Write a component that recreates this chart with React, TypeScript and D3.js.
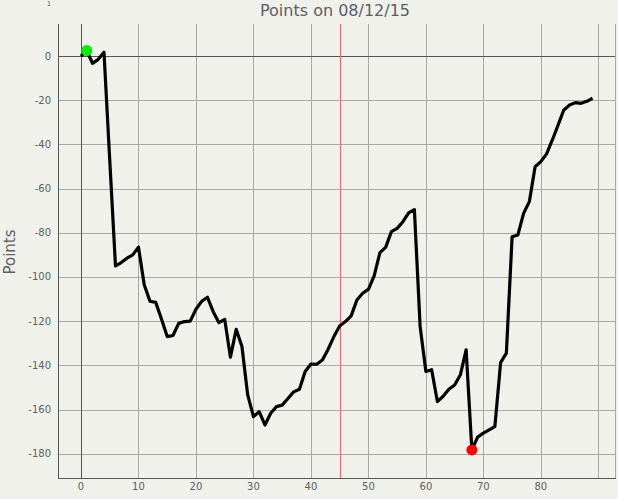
import { useEffect, useRef } from 'react';
import * as d3 from 'd3';

// points per sample index (0..89)
const points = [
  0, 2.5, -3.3, -1.5, 1.7, -47, -95, -93.5, -91.5, -90,
  -86.5, -103.5, -111, -111.5, -119, -127, -126.5, -121, -120.2, -120,
  -114.6, -111, -109.2, -115.7, -120.7, -119.2, -136.3, -123.7, -131.5, -153.4,
  -163.2, -161, -167, -161.7, -158.7, -158, -155, -152, -150.8, -142.8,
  -139.4, -139.5, -137.6, -132.7, -127, -122.2, -120.2, -117.6, -110.4, -107.4,
  -105.6, -99.5, -89, -86.6, -79.5, -78, -75, -71, -69.5, -122.5,
  -142.8, -142, -156.4, -154, -150.8, -148.9, -144.3, -133, -178.3, -172.5,
  -170.7, -169.2, -167.7, -138.8, -134.5, -81.8, -81, -71.2, -65.9, -50.1,
  -47.8, -44.3, -38, -31.2, -24.4, -22.2, -21.1, -21.4, -20.5, -19.1,
];
const xTickLabels = [0, 10, 20, 30, 40, 50, 60, 70, 80];
const xGridValues = [10, 20, 30, 40, 50, 60, 70, 80, 90];
const yTickLabels = [0, -20, -40, -60, -80, -100, -120, -140, -160, -180];
const markerX = 45;
const maxIndex = 1;
const minIndex = 68;

const colors = {
  bg: '#f1f1ec',
  grid: '#a8a8a4',
  axis: '#555555',
  text: '#5a5e66',
  marker: '#f06474',
};

export default function App() {
  const ref = useRef<SVGSVGElement>(null);

  useEffect(() => {
    const svg = d3.select(ref.current);
    svg.selectAll('*').remove();

    const left = 58;
    const right = 615;
    const top = 24;
    const bottom = 478;
    const font = 'DejaVu Sans, Verdana, sans-serif';

    const x = d3.scaleLinear().domain([-4, 92.9]).range([left, right]);
    const y = d3.scaleLinear().domain([-191, 14.5]).range([bottom, top]);

    svg.append('rect').attr('width', 618).attr('height', 499).attr('fill', colors.bg);

    // grid
    const grid = svg.append('g').attr('shape-rendering', 'crispEdges');
    grid
      .selectAll('line.vg')
      .data(xGridValues)
      .enter()
      .append('line')
      .attr('x1', d => Math.round(x(d)) + 0.5)
      .attr('x2', d => Math.round(x(d)) + 0.5)
      .attr('y1', top)
      .attr('y2', bottom)
      .attr('stroke', colors.grid);
    grid
      .selectAll('line.hg')
      .data(yTickLabels.filter(d => d !== 0))
      .enter()
      .append('line')
      .attr('x1', left)
      .attr('x2', right)
      .attr('y1', d => Math.round(y(d)) + 0.5)
      .attr('y2', d => Math.round(y(d)) + 0.5)
      .attr('stroke', colors.grid);
    grid
      .append('line')
      .attr('x1', right + 0.5)
      .attr('x2', right + 0.5)
      .attr('y1', top)
      .attr('y2', bottom)
      .attr('stroke', colors.grid);

    // zero lines and frame
    grid
      .append('line')
      .attr('x1', Math.round(x(0)) + 0.5)
      .attr('x2', Math.round(x(0)) + 0.5)
      .attr('y1', top)
      .attr('y2', bottom)
      .attr('stroke', colors.axis);
    grid
      .append('line')
      .attr('x1', left)
      .attr('x2', right)
      .attr('y1', Math.round(y(0)) + 0.5)
      .attr('y2', Math.round(y(0)) + 0.5)
      .attr('stroke', colors.axis);
    grid
      .append('line')
      .attr('x1', left + 0.5)
      .attr('x2', left + 0.5)
      .attr('y1', top)
      .attr('y2', bottom + 1)
      .attr('stroke', colors.axis);
    grid
      .append('line')
      .attr('x1', left)
      .attr('x2', right + 1)
      .attr('y1', bottom + 0.5)
      .attr('y2', bottom + 0.5)
      .attr('stroke', colors.axis);

    grid
      .append('line')
      .attr('x1', Math.round(x(markerX)) + 0.5)
      .attr('x2', Math.round(x(markerX)) + 0.5)
      .attr('y1', top)
      .attr('y2', bottom)
      .attr('stroke', colors.marker);

    // tick labels
    svg
      .append('g')
      .selectAll('text')
      .data(xTickLabels)
      .enter()
      .append('text')
      .attr('x', d => x(d))
      .attr('y', 490)
      .attr('text-anchor', 'middle')
      .style('font-family', font)
      .style('font-size', '10px')
      .attr('fill', colors.text)
      .text(d => d);
    svg
      .append('g')
      .selectAll('text')
      .data(yTickLabels)
      .enter()
      .append('text')
      .attr('x', 51)
      .attr('y', d => y(d))
      .attr('dy', '0.35em')
      .attr('text-anchor', 'end')
      .style('font-family', font)
      .style('font-size', '10px')
      .attr('fill', colors.text)
      .text(d => d);

    // small stray label at the very top
    svg
      .append('text')
      .attr('x', 49)
      .attr('y', 6)
      .attr('text-anchor', 'middle')
      .style('font-family', font)
      .style('font-size', '7px')
      .attr('fill', colors.text)
      .text('1');

    // titles
    svg
      .append('text')
      .attr('x', 335)
      .attr('y', 16)
      .attr('text-anchor', 'middle')
      .style('font-family', font)
      .style('font-size', '16px')
      .attr('fill', colors.text)
      .text('Points on 08/12/15');
    svg
      .append('text')
      .attr('transform', 'translate(15, 252) rotate(-90)')
      .attr('text-anchor', 'middle')
      .style('font-family', font)
      .style('font-size', '15px')
      .attr('fill', colors.text)
      .text('Points');

    // series
    const line = d3
      .line<number>()
      .x((d, i) => x(i))
      .y(d => y(d));
    svg
      .append('path')
      .datum(points)
      .attr('d', line)
      .attr('fill', 'none')
      .attr('stroke', '#000')
      .attr('stroke-width', 3.2)
      .attr('stroke-linejoin', 'round');

    svg
      .append('circle')
      .attr('cx', x(maxIndex))
      .attr('cy', y(points[maxIndex]))
      .attr('r', 5.5)
      .attr('fill', '#00ee00');
    svg
      .append('circle')
      .attr('cx', x(minIndex))
      .attr('cy', y(points[minIndex]))
      .attr('r', 5.5)
      .attr('fill', '#ff0000');
  }, []);

  return (
    <svg
      ref={ref}
      width={618}
      height={499}
      style={{ position: 'absolute', left: 0, top: 0 }}
    />
  );
}
